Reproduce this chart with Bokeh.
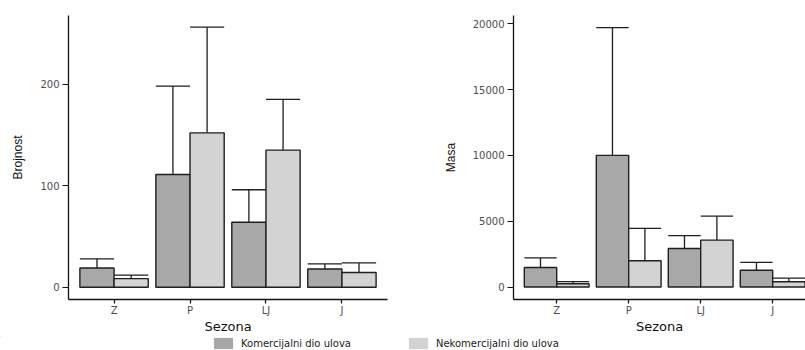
import numpy as np
from bokeh.plotting import figure
from bokeh.layouts import row, column
from bokeh.models import Range1d, FixedTicker, Legend, LegendItem
from bokeh.embed import file_html
from bokeh.resources import INLINE

# ---- data ----
categories = ["Z", "P", "LJ", "J"]
series_names = ["Komercijalni dio ulova", "Nekomercijalni dio ulova"]

brojnost_kom = [19, 111, 64, 18]
brojnost_kom_upper = [28, 198, 96, 23]
brojnost_nekom = [8.5, 152, 135, 14.5]
brojnost_nekom_upper = [12, 256, 185, 24]

masa_kom = [1480, 10000, 2930, 1280]
masa_kom_upper = [2210, 19700, 3900, 1880]
masa_nekom = [255, 2000, 3560, 405]
masa_nekom_upper = [405, 4460, 5380, 675]

brojnost_ticks = [0, 100, 200]
masa_ticks = [0, 5000, 10000, 15000, 20000]

# ---- style ----
DARK = "#A8A8A8"
LIGHT = "#D3D3D3"
EDGE = "#1f1f1f"
BAR_W = 0.45
COLORS = [DARK, LIGHT]


def make_panel(ylabel, kom, kom_up, nekom, nekom_up, yticks, y_start, y_end,
               x_end, width, mbl, mbr):
    p = figure(width=width, height=336, output_backend="svg", toolbar_location=None,
               x_range=Range1d(0.4, x_end), y_range=Range1d(y_start, y_end),
               min_border_left=mbl, min_border_right=mbr, min_border_top=15,
               min_border_bottom=34)
    p.outline_line_color = None
    p.xgrid.visible = False
    p.ygrid.visible = False

    pos = np.arange(1, len(categories) + 1, dtype=float)
    x_k = pos - BAR_W / 2
    x_n = pos + BAR_W / 2

    for xs, vals, ups, col in ((x_k, kom, kom_up, DARK), (x_n, nekom, nekom_up, LIGHT)):
        p.segment(x0=xs, y0=vals, x1=xs, y1=ups, line_color=EDGE, line_width=1.3)
        p.segment(x0=xs - BAR_W / 2, y0=ups, x1=xs + BAR_W / 2, y1=ups,
                  line_color=EDGE, line_width=1.3)
        p.vbar(x=xs, bottom=0, top=vals, width=BAR_W, fill_color=col,
               line_color=EDGE, line_width=1.4)

    # axes
    p.xaxis.ticker = FixedTicker(ticks=list(pos))
    p.xaxis.major_label_overrides = {float(v): c for v, c in zip(pos, categories)}
    p.yaxis.ticker = FixedTicker(ticks=yticks)
    for ax in (p.xaxis[0], p.yaxis[0]):
        ax.axis_line_color = "#111111"
        ax.axis_line_width = 1.3
        ax.major_tick_line_color = "#111111"
        ax.major_tick_line_width = 1.2
        ax.major_tick_in = 0
        ax.minor_tick_line_color = None
        ax.major_label_text_font = "DejaVu Sans"
        ax.major_label_text_color = "#4D4D4D"
        ax.axis_label_text_font_style = "normal"
        ax.axis_label_text_color = "#111111"
    p.yaxis.major_tick_out = 6
    p.yaxis.major_label_standoff = 3
    p.yaxis.major_label_text_font_size = "10px"
    p.yaxis.axis_label = ylabel
    p.yaxis.axis_label_text_font = "Liberation Sans"
    p.yaxis.axis_label_text_font_size = "12px"
    p.yaxis.axis_label_standoff = 12
    p.yaxis.formatter.use_scientific = False

    p.xaxis.major_tick_out = 4
    p.xaxis.major_label_standoff = 1
    p.xaxis.major_label_text_font_size = "10px"
    p.xaxis.axis_label = "Sezona"
    p.xaxis.axis_label_text_font = "DejaVu Sans"
    p.xaxis.axis_label_text_font_size = "13px"
    p.xaxis.axis_label_standoff = 0
    return p


p1 = make_panel("Brojnost", brojnost_kom, brojnost_kom_upper, brojnost_nekom,
                brojnost_nekom_upper, brojnost_ticks, -12, 267.5, 4.6,
                400, 68, 13)
p2 = make_panel("Masa", masa_kom, masa_kom_upper, masa_nekom, masa_nekom_upper,
                masa_ticks, -946, 20623, 4.456, 405, 113, 0)

# ---- shared legend strip ----
# the strip's ranges lie outside the data, so only the legend is visible
pl = figure(width=805, height=14, output_backend="svg", toolbar_location=None,
            x_axis_type=None, y_axis_type=None, min_border=0,
            x_range=Range1d(100, 101), y_range=Range1d(-101, -100))
pl.outline_line_color = None
pl.xgrid.visible = False
pl.ygrid.visible = False
items = []
pos_all = list(range(1, len(categories) + 1))
for name, col, vals in zip(series_names, COLORS, (brojnost_kom, brojnost_nekom)):
    r = pl.vbar(x=pos_all, top=vals, bottom=0, width=BAR_W, fill_color=col,
                line_color=None)
    items.append(LegendItem(label=name, renderers=[r]))
leg = Legend(items=items, orientation="horizontal", location=(211, 0),
             margin=0, padding=0, spacing=55,
             border_line_color=None, background_fill_alpha=0,
             glyph_width=24, glyph_height=14, label_height=14,
             label_standoff=6, label_text_font="DejaVu Sans",
             label_text_font_size="10px", label_text_color="#222222")
pl.add_layout(leg)

p = column(row(p1, p2), pl)
open("out.html", "w").write(file_html(p, INLINE))
